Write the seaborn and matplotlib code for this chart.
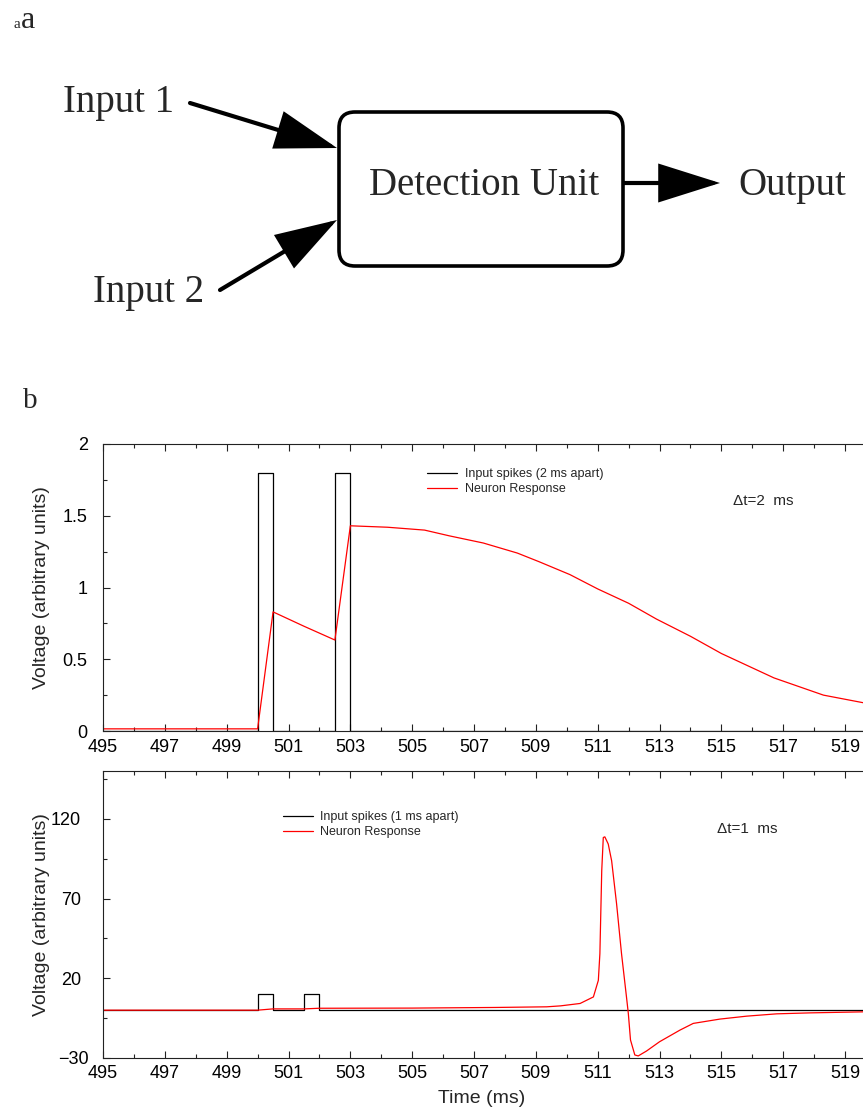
import numpy as np
import pandas as pd
import matplotlib
matplotlib.use("Agg")
import matplotlib.pyplot as plt
import seaborn as sns
from matplotlib.patches import FancyBboxPatch
from matplotlib.transforms import ScaledTranslation

# ---------------- data ----------------
# panel b, top (dt = 2 ms)
top_spike_starts = [500.0, 502.5]
top_spike_height = 1.8
spike_width = 0.5
top_resp_t = [495.0, 500.0, 500.5, 501.5, 502.5, 503.0, 504.2, 505.4, 506.2, 507.3,
              508.4, 509.1, 510.1, 511.0, 512.0, 512.9, 514.0, 515.0, 516.7, 518.3, 520.0]
top_resp_v = [0.015, 0.015, 0.83, 0.73, 0.634, 1.43, 1.42, 1.40, 1.36, 1.31,
              1.24, 1.18, 1.09, 0.99, 0.89, 0.78, 0.66, 0.54, 0.37, 0.25, 0.18]

# panel b, bottom (dt = 1 ms)
bot_spike_starts = [500.0, 501.5]
bot_spike_height = 10.0
bot_resp_t = [495.0, 500.0, 500.5, 501.5, 502.0, 505.0, 507.7, 509.35, 509.8, 510.43,
              510.86, 511.02, 511.07, 511.13, 511.18, 511.23, 511.34, 511.45, 511.61,
              511.77, 511.93, 511.99, 512.06, 512.2, 512.31, 512.58, 513.0, 513.66,
              514.09, 514.95, 515.82, 516.79, 517.86, 520.0]
bot_resp_v = [0.0, 0.0, 0.8, 0.8, 1.2, 1.3, 1.7, 2.1, 2.7, 4.2,
              8.3, 18.7, 35.4, 87.5, 108.3, 108.7, 104.2, 93.7, 66.7,
              35.4, 8.3, -2.1, -18.7, -28.1, -28.7, -25.6, -19.8, -12.5,
              -8.3, -5.6, -3.75, -2.3, -1.7, -0.9]

x_range = [495, 520]
x_major = [495, 497, 499, 501, 503, 505, 507, 509, 511, 513, 515, 517, 519]
x_minor = [496, 498, 500, 502, 504, 506, 508, 510, 512, 514, 516, 518, 520]
top_y_major = [0, 0.5, 1, 1.5, 2]
top_y_labels = ["0", "0.5", "1", "1.5", "2"]
top_y_minor = [0.25, 0.75, 1.25, 1.75]
bot_y_major = [-30, 20, 70, 120]
bot_y_minor = [-5, 45, 95, 145]
bot_y_range = [-30, 150]


def spike_train(starts, width, height, t0, t1):
    t, v = [t0], [0.0]
    for s in starts:
        t += [s, s, s + width, s + width]
        v += [0.0, height, height, 0.0]
    t.append(t1)
    v.append(0.0)
    return pd.DataFrame({"t": t, "v": v})


# ---------------- style ----------------
sns.set_theme(style="ticks")
plt.rcParams["font.family"] = ["Liberation Sans", "DejaVu Sans"]
plt.rcParams["axes.edgecolor"] = "#222222"
plt.rcParams["axes.linewidth"] = 0.8

W, H = 863, 1110
fig = plt.figure(figsize=(W / 100, H / 100), dpi=100)


def px_axes(l, t, r, b):
    return fig.add_axes([l / W, 1 - b / H, (r - l) / W, (b - t) / H])


ax1 = px_axes(103, 444, 876, 731)
ax2 = px_axes(103, 771, 876, 1058)

# top panel
top_sp = spike_train(top_spike_starts, spike_width, top_spike_height, *x_range)
sns.lineplot(data=top_sp, x="t", y="v", ax=ax1, color="black", lw=0.9,
             estimator=None, sort=False, label="Input spikes (2 ms apart)")
sns.lineplot(x=top_resp_t, y=top_resp_v, ax=ax1, color="#ff0000", lw=0.9,
             estimator=None, sort=False, label="Neuron Response")
ax1.set_ylim(0, 2)
ax1.set_yticks(top_y_major)
ax1.set_yticklabels(top_y_labels)
ax1.set_yticks(top_y_minor, minor=True)

# bottom panel
bot_sp = spike_train(bot_spike_starts, spike_width, bot_spike_height, *x_range)
sns.lineplot(data=bot_sp, x="t", y="v", ax=ax2, color="black", lw=0.9,
             estimator=None, sort=False, label="Input spikes (1 ms apart)")
sns.lineplot(x=bot_resp_t, y=bot_resp_v, ax=ax2, color="#ff0000", lw=0.9,
             estimator=None, sort=False, label="Neuron Response")
ax2.set_ylim(*bot_y_range)
ax2.set_yticks(bot_y_major)
ax2.set_yticklabels(["\u221230", "20", "70", "120"])
ax2.set_yticks(bot_y_minor, minor=True)

for ax in (ax1, ax2):
    ax.set_xlim(*x_range)
    ax.set_xticks(x_major)
    ax.set_xticklabels([str(v) for v in x_major])
    ax.set_xticks(x_minor, minor=True)
    ax.tick_params(which="both", direction="in", top=True, right=True,
                   color="#222222", width=0.8, labelsize=13, labelcolor="black")
    ax.tick_params(which="major", length=5)
    ax.tick_params(which="minor", length=3)
    ax.set_ylabel("Voltage (arbitrary units)", fontsize=14)
    ax.yaxis.set_label_coords(-0.068, 0.5)
    ax.set_xlabel("")

ax1.tick_params(axis="x", pad=6)
ax2.tick_params(axis="x", pad=5)
ax1.tick_params(axis="y", pad=11)
ax2.tick_params(axis="y", pad=16)
ax2.set_xlabel("Time (ms)", fontsize=14)
ax2.xaxis.set_label_coords(0.49, -0.11)

# gnuplot-style: the lowest y label of the bottom panel sits further right
low_lbl = ax2.get_yticklabels()[0]
low_lbl.set_transform(low_lbl.get_transform() + ScaledTranslation(0.08, 0, fig.dpi_scale_trans))

leg_kw = dict(loc="upper left", bbox_transform=fig.transFigure, frameon=False,
              fontsize=9, borderpad=0, borderaxespad=0, handlelength=2.4,
              handletextpad=0.6, labelspacing=0.25)
ax1.legend(bbox_to_anchor=(427 / W, 1 - 468 / H), **leg_kw)
ax2.legend(bbox_to_anchor=(283 / W, 1 - 811 / H), **leg_kw)

# ---------------- overlay: diagram + labels ----------------
ov = fig.add_axes([0, 0, 1, 1])
ov.set_xlim(0, W)
ov.set_ylim(H, 0)
ov.axis("off")
ov.patch.set_alpha(0)

serif = ["Liberation Serif", "DejaVu Serif"]
ov.text(13, 28, "a", fontsize=11, family=serif, va="baseline", ha="left")
ov.text(21, 28, "a", fontsize=23, family=serif, va="baseline", ha="left")
ov.text(23, 408, "b", fontsize=21, family=serif, va="baseline", ha="left")

ov.text(63, 112, "Input 1", fontsize=28, family=serif, va="baseline", ha="left")
ov.text(93, 302, "Input 2", fontsize=28, family=serif, va="baseline", ha="left")
ov.text(369, 195, "Detection Unit", fontsize=28, family=serif, va="baseline", ha="left")
ov.text(738, 195, "Output", fontsize=28, family=serif, va="baseline", ha="left")

box = FancyBboxPatch((339, 112), 284, 154, boxstyle="round,pad=0,rounding_size=16",
                     fc="none", ec="black", lw=2.6)
ov.add_patch(box)

arrow_kw = dict(arrowstyle="-|>,head_length=38,head_width=12", color="black",
                lw=3.0, shrinkA=0, shrinkB=0, mutation_scale=1, joinstyle="miter")
ov.annotate("", xy=(337, 148), xytext=(190, 103), arrowprops=arrow_kw)
ov.annotate("", xy=(337, 220), xytext=(220, 290), arrowprops=arrow_kw)
ov.annotate("", xy=(720, 183), xytext=(624, 183), arrowprops=arrow_kw)

ov.text(733, 501, "\u0394t=2  ms", fontsize=11, va="center", ha="left")
ov.text(717, 829, "\u0394t=1  ms", fontsize=11, va="center", ha="left")

fig.savefig("out.png", dpi=100)
